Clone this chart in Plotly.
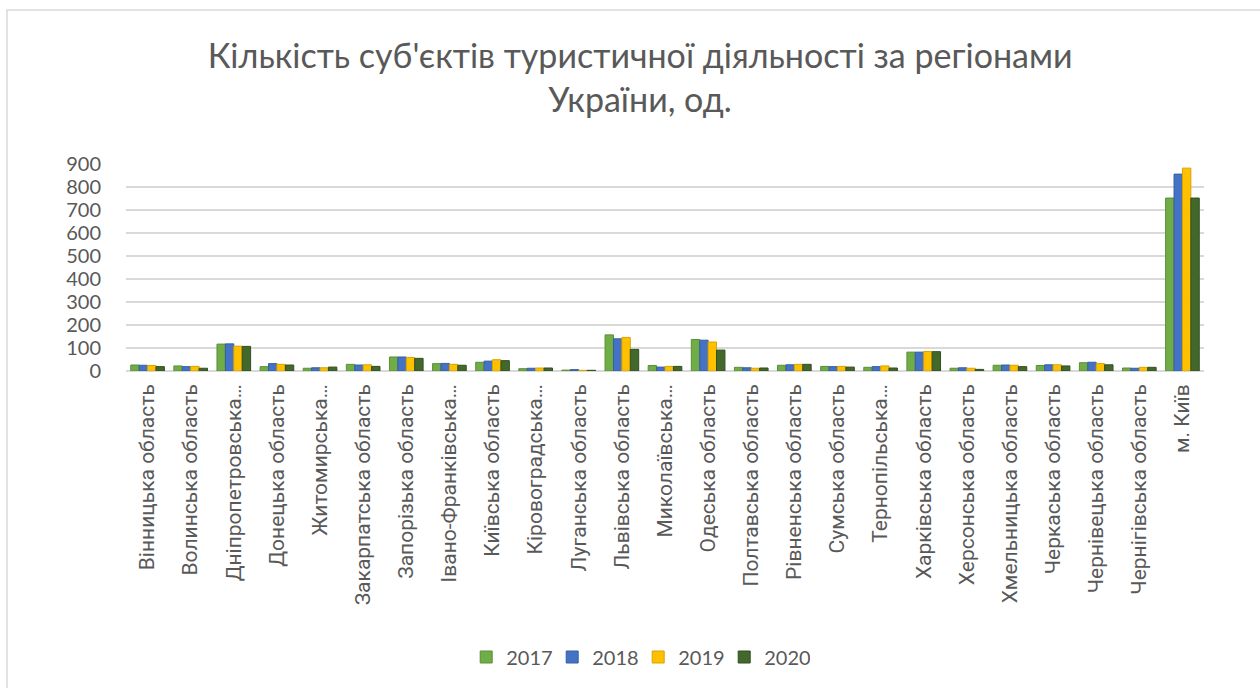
import plotly.graph_objects as go

regions = ["Вінницька область", "Волинська область", "Дніпропетровська область", "Донецька область",
           "Житомирська область", "Закарпатська область", "Запорізька область", "Івано-Франківська область",
           "Київська область", "Кіровоградська область", "Луганська область", "Львівська область",
           "Миколаївська область", "Одеська область", "Полтавська область", "Рівненська область",
           "Сумська область", "Тернопільська область", "Харківська область", "Херсонська область",
           "Хмельницька область", "Черкаська область", "Чернівецька область", "Чернігівська область", "м. Київ"]
tick_labels = ["Вінницька область", "Волинська область", "Дніпропетровська…", "Донецька область",
               "Житомирська…", "Закарпатська область", "Запорізька область", "Івано-Франківська…",
               "Київська область", "Кіровоградська…", "Луганська область", "Львівська область",
               "Миколаївська…", "Одеська область", "Полтавська область", "Рівненська область",
               "Сумська область", "Тернопільська…", "Харківська область", "Херсонська область",
               "Хмельницька область", "Черкаська область", "Чернівецька область", "Чернігівська область", "м. Київ"]

y2017 = [26, 22, 117, 19, 12, 29, 61, 32, 38, 10, 4, 157, 24, 137, 16, 25, 20, 16, 82, 12, 25, 24, 36, 13, 752]
y2018 = [25, 19, 118, 32, 14, 26, 61, 33, 43, 12, 6, 140, 17, 134, 14, 27, 19, 19, 82, 14, 26, 27, 38, 12, 856]
y2019 = [24, 20, 108, 29, 14, 27, 59, 29, 49, 13, 3, 146, 20, 126, 12, 29, 20, 22, 85, 12, 25, 27, 32, 16, 882]
y2020 = [19, 12, 107, 26, 17, 20, 55, 25, 45, 13, 3, 94, 20, 91, 13, 29, 17, 13, 84, 7, 19, 22, 27, 16, 752]

years = ["2017", "2018", "2019", "2020"]
series = [y2017, y2018, y2019, y2020]
colors = ["#70ad47", "#4472c4", "#ffc000", "#43682b"]
edge = ["#5a8f38", "#36609f", "#d9a300", "#324f20"]

fig = go.Figure()
for name, vals, c, e in zip(years, series, colors, edge):
    fig.add_trace(go.Bar(x=regions, y=vals, name=name, marker=dict(color=c, line=dict(color=e, width=1))))

fig.update_layout(
    width=1260, height=688,
    paper_bgcolor="white", plot_bgcolor="white",
    margin=dict(l=126, r=56, t=164, b=317),
    barmode="group", bargap=0.22, bargroupgap=0,
    title=dict(text="Кількість суб'єктів туристичної діяльності за регіонами<br>України, од.",
               x=0.508, xanchor="center", xref="container", y=1 - 68 / 688, yanchor="top", yref="container",
               font=dict(family="Lato, Open Sans, sans-serif", size=34, color="#595959")),
    legend=dict(orientation="h", x=0.5065, xanchor="center", xref="container",
                y=1 - 657 / 688, yanchor="middle", yref="container",
                font=dict(family="Lato, Open Sans, sans-serif", size=20, color="#595959"),
                entrywidth=41, entrywidthmode="pixels", itemwidth=30, traceorder="normal"),
    shapes=[dict(type="rect", xref="paper", yref="paper", x0=-119 / 1078, x1=1.2, y0=-2.0, y1=1.0 + 154 / 207,
                 line=dict(color="#d9d9d9", width=1.5), fillcolor="rgba(0,0,0,0)", layer="below")],
    showlegend=True,
)
fig.update_xaxes(tickmode="array", tickvals=regions, ticktext=tick_labels, tickangle=-90,
                 tickfont=dict(family="Roboto, sans-serif", size=21, color="#595959"),
                 showline=False, showgrid=False, ticks="", ticklabelstandoff=8)
fig.update_yaxes(range=[0, 900], tickvals=list(range(0, 901, 100)),
                 tickfont=dict(family="Lato, Open Sans, sans-serif", size=20, color="#595959"),
                 showgrid=True, gridcolor="#d9d9d9", gridwidth=1.5, zeroline=True, zerolinecolor="#d9d9d9",
                 zerolinewidth=1.5, showline=False, ticks="", ticklabelstandoff=24)

fig.write_html("out.html", config={"displayModeBar": False},
               post_script="document.body.style.margin='0px';")
